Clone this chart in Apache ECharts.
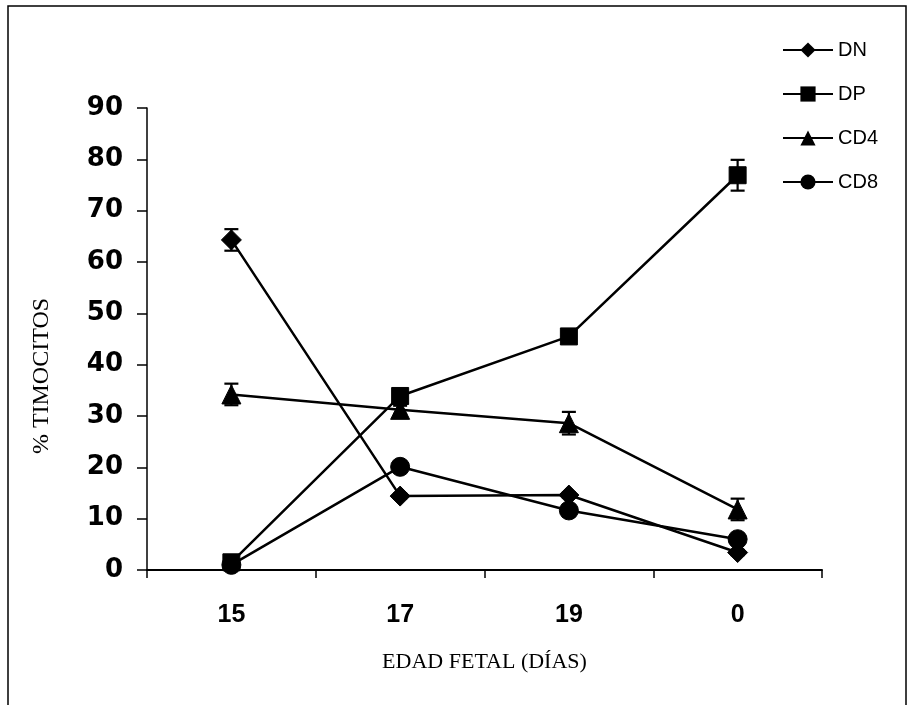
<!DOCTYPE html>
<html>
<head>
<meta charset="utf-8">
<script src="https://cdn.jsdelivr.net/npm/echarts@6/dist/echarts.min.js"></script>
<style>html,body{margin:0;padding:0;background:#fff}#c{width:912px;height:705px}</style>
</head>
<body>
<div id="c"></div>
<script>
var categories = ['15', '17', '19', '0'];
var dnValues  = [64.3, 14.4, 14.6, 3.4];
var dpValues  = [1.5, 33.9, 45.5, 76.9];
var cd4Values = [34.2, 31.2, 28.6, 11.8];
var cd8Values = [1.0, 20.1, 11.6, 6.0];
var dnErr  = [2.1, 0.5, 0.5, 0.5];
var dpErr  = [0.5, 0.8, 1.2, 3.0];
var cd4Err = [2.1, 0.8, 2.2, 2.1];
var cd8Err = [0.5, 0.8, 0.8, 0.8];
var yTicks = [0, 10, 20, 30, 40, 50, 60, 70, 80, 90];

var chart = echarts.init(document.getElementById('c'));

function errData(vals, errs) {
  return vals.map(function (v, i) { return [i, v, errs[i]]; });
}
function errSeries(name, vals, errs) {
  return {
    type: 'custom',
    name: name + ' err',
    silent: true,
    z: 1,
    data: errData(vals, errs),
    renderItem: function (params, api) {
      var x = api.value(0), v = api.value(1), e = api.value(2);
      var top = api.coord([x, v + e]);
      var bot = api.coord([x, v - e]);
      var hw = 7;
      var st = { stroke: '#000', lineWidth: 2.2 };
      return {
        type: 'group',
        children: [
          { type: 'line', shape: { x1: top[0], y1: top[1], x2: bot[0], y2: bot[1] }, style: st },
          { type: 'line', shape: { x1: top[0] - hw, y1: top[1], x2: top[0] + hw, y2: top[1] }, style: st },
          { type: 'line', shape: { x1: bot[0] - hw, y1: bot[1], x2: bot[0] + hw, y2: bot[1] }, style: st }
        ]
      };
    }
  };
}
function lineSeries(name, vals, symbol, size) {
  return {
    type: 'line',
    name: name,
    data: vals,
    symbol: symbol,
    symbolSize: size,
    showAllSymbol: true,
    z: 3,
    lineStyle: { color: '#000', width: 2.5 },
    itemStyle: { color: '#000', borderColor: '#000' },
    emphasis: { disabled: true }
  };
}

chart.setOption({
  animation: false,
  backgroundColor: '#fff',
  grid: { left: 147, right: 90, top: 108, bottom: 135 },
  legend: {
    orient: 'vertical',
    left: 777,
    top: 35,
    itemWidth: 50,
    itemHeight: 19,
    itemGap: 24,
    data: ['DN', 'DP', 'CD4', 'CD8'],
    textStyle: { color: '#000', fontSize: 20, fontFamily: 'Liberation Sans', lineHeight: 20 }
  },
  xAxis: {
    type: 'category',
    data: categories,
    boundaryGap: true,
    name: 'EDAD FETAL (DÍAS)',
    nameLocation: 'middle',
    nameGap: 81,
    nameTextStyle: { color: '#000', fontSize: 22, fontFamily: 'Liberation Serif' },
    axisLine: { lineStyle: { color: '#000', width: 2 } },
    axisTick: { show: true, length: 8, lineStyle: { color: '#000', width: 1.5 } },
    axisLabel: { color: '#000', fontSize: 25, fontWeight: 'bold', fontFamily: 'Liberation Sans', margin: 33 }
  },
  yAxis: {
    type: 'value',
    min: yTicks[0],
    max: yTicks[yTicks.length - 1],
    interval: 10,
    axisLine: { show: true, lineStyle: { color: '#000', width: 1.5 } },
    axisTick: { show: true, length: 10, lineStyle: { color: '#000', width: 1.5 } },
    splitLine: { show: false },
    axisLabel: { color: '#000', fontSize: 26, fontWeight: 'bold', fontFamily: 'DejaVu Sans', margin: 24 }
  },
  graphic: [
    { type: 'rect', shape: { x: 8, y: 6, width: 898, height: 720 }, style: { fill: 'none', stroke: '#000', lineWidth: 1.5 }, z: -1 },
    { type: 'text', x: 42, y: 376, rotation: Math.PI / 2,
      style: { text: '% TIMOCITOS', fill: '#000', fontSize: 24, fontFamily: 'Liberation Serif', align: 'center', verticalAlign: 'middle' } }
  ],
  series: [
    errSeries('DN', dnValues, dnErr),
    errSeries('DP', dpValues, dpErr),
    errSeries('CD4', cd4Values, cd4Err),
    errSeries('CD8', cd8Values, cd8Err),
    lineSeries('DN', dnValues, 'diamond', 20),
    lineSeries('DP', dpValues, 'rect', 17),
    lineSeries('CD4', cd4Values, 'triangle', 19),
    lineSeries('CD8', cd8Values, 'circle', 19)
  ]
});
</script>
</body>
</html>
